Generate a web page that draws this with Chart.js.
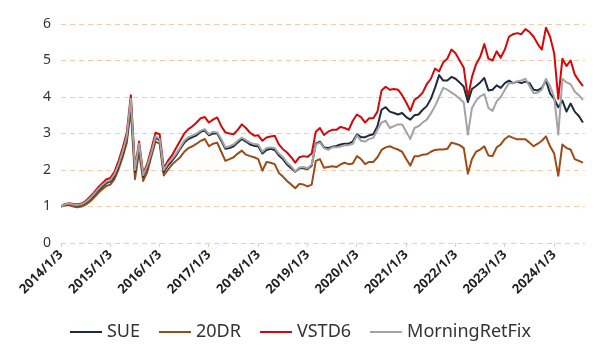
<!DOCTYPE html>
<html>
<head>
<meta charset="utf-8">
<script src="https://cdn.jsdelivr.net/npm/chart.js@4.4.1/dist/chart.umd.min.js"></script>
<style>
  html, body { margin: 0; padding: 0; background: #fff; }
</style>
</head>
<body>
<canvas id="nav" width="594" height="345"></canvas>
<script>
// month-end net values, 2014/1 .. 2024/8 (one value per month)
const yearTicks = ["2014/1/3", "2015/1/3", "2016/1/3", "2017/1/3", "2018/1/3", "2019/1/3",
  "2020/1/3", "2021/1/3", "2022/1/3", "2023/1/3", "2024/1/3"];

const sue = [
  1.00, 1.05, 1.07, 1.04, 1.03, 1.05, 1.10, 1.20, 1.31, 1.43, 1.54, 1.64,
  1.68, 1.83, 2.10, 2.44, 2.86, 3.85, 1.95, 2.65, 1.82, 2.08, 2.45, 2.88,
  2.82, 1.95, 2.12, 2.25, 2.40, 2.58, 2.75, 2.85, 2.90, 2.95, 3.05, 3.08,
  2.95, 3.00, 3.00, 2.80, 2.58, 2.60, 2.65, 2.75, 2.85, 2.78, 2.70, 2.66,
  2.65, 2.45, 2.55, 2.58, 2.55, 2.40, 2.30, 2.15, 2.05, 1.95, 2.05, 2.05,
  2.03, 2.12, 2.72, 2.78, 2.62, 2.60, 2.64, 2.66, 2.70, 2.72, 2.72, 2.78,
  2.98, 2.90, 2.90, 2.95, 2.98, 3.20, 3.65, 3.72, 3.60, 3.56, 3.52, 3.56,
  3.45, 3.38, 3.50, 3.52, 3.65, 3.75, 3.95, 4.25, 4.60, 4.45, 4.45, 4.55,
  4.50, 4.40, 4.28, 3.86, 4.22, 4.30, 4.40, 4.52, 4.18, 4.20, 4.32, 4.25,
  4.38, 4.45, 4.38, 4.42, 4.38, 4.42, 4.38, 4.20, 4.18, 4.25, 4.45, 4.10,
  3.95, 3.72, 3.90, 3.60, 3.82, 3.60, 3.48, 3.30
];

const dr20 = [
  1.00, 1.03, 1.04, 1.00, 0.98, 1.00, 1.05, 1.13, 1.24, 1.36, 1.47, 1.56,
  1.60, 1.75, 2.02, 2.35, 2.75, 3.65, 1.75, 2.50, 1.70, 1.95, 2.38, 2.78,
  2.72, 1.85, 2.00, 2.15, 2.25, 2.35, 2.50, 2.60, 2.65, 2.72, 2.80, 2.85,
  2.65, 2.72, 2.75, 2.50, 2.25, 2.30, 2.35, 2.45, 2.53, 2.42, 2.38, 2.35,
  2.30, 1.98, 2.22, 2.20, 2.16, 1.92, 1.82, 1.70, 1.60, 1.50, 1.62, 1.60,
  1.55, 1.60, 2.25, 2.30, 2.06, 2.08, 2.10, 2.08, 2.15, 2.20, 2.16, 2.18,
  2.38, 2.30, 2.16, 2.22, 2.22, 2.35, 2.55, 2.62, 2.65, 2.60, 2.56, 2.50,
  2.30, 2.12, 2.38, 2.38, 2.42, 2.43, 2.50, 2.55, 2.56, 2.56, 2.58, 2.75,
  2.72, 2.68, 2.60, 1.90, 2.30, 2.50, 2.56, 2.65, 2.40, 2.38, 2.62, 2.70,
  2.85, 2.93, 2.88, 2.84, 2.84, 2.84, 2.75, 2.65, 2.72, 2.80, 2.92, 2.65,
  2.45, 1.84, 2.70, 2.60, 2.56, 2.30, 2.25, 2.20
];

const vstd6 = [
  1.00, 1.07, 1.09, 1.07, 1.06, 1.08, 1.15, 1.26, 1.38, 1.52, 1.63, 1.74,
  1.78, 1.95, 2.25, 2.60, 3.02, 4.05, 2.05, 2.78, 1.90, 2.18, 2.58, 3.02,
  2.98, 2.05, 2.25, 2.40, 2.60, 2.80, 3.00, 3.12, 3.20, 3.30, 3.42, 3.45,
  3.30, 3.38, 3.44, 3.20, 3.03, 3.00, 2.98, 3.10, 3.25, 3.15, 3.02, 2.94,
  2.95, 2.80, 2.89, 2.92, 2.94, 2.70, 2.57, 2.48, 2.35, 2.20, 2.35, 2.38,
  2.36, 2.45, 3.05, 3.15, 2.96, 3.05, 3.10, 3.10, 3.18, 3.15, 3.10, 3.35,
  3.52, 3.45, 3.30, 3.42, 3.42, 3.60, 4.18, 4.28, 4.20, 4.22, 4.20, 4.05,
  3.85, 3.62, 3.92, 4.00, 4.12, 4.35, 4.50, 4.78, 4.70, 4.95, 5.05, 5.30,
  5.20, 5.00, 4.80, 3.98, 4.55, 4.90, 5.10, 5.45, 5.05, 5.00, 5.25, 5.08,
  5.30, 5.65, 5.72, 5.75, 5.72, 5.86, 5.78, 5.65, 5.45, 5.30, 5.90, 5.65,
  5.20, 3.95, 5.05, 4.85, 5.00, 4.62, 4.45, 4.30
];

const morningRetFix = [
  1.00, 1.06, 1.08, 1.05, 1.04, 1.06, 1.12, 1.22, 1.34, 1.47, 1.58, 1.68,
  1.72, 1.88, 2.15, 2.50, 2.92, 3.95, 2.00, 2.72, 1.86, 2.12, 2.48, 2.92,
  2.85, 2.00, 2.18, 2.30, 2.45, 2.62, 2.80, 2.90, 2.95, 3.00, 3.08, 3.12,
  2.98, 3.05, 3.03, 2.85, 2.62, 2.65, 2.70, 2.80, 2.89, 2.82, 2.75, 2.71,
  2.70, 2.50, 2.60, 2.62, 2.60, 2.45, 2.35, 2.20, 2.10, 1.96, 2.07, 2.08,
  2.05, 2.15, 2.70, 2.75, 2.60, 2.55, 2.62, 2.62, 2.64, 2.68, 2.68, 2.72,
  2.95, 2.80, 2.78, 2.85, 2.88, 3.10, 3.30, 3.35, 3.15, 3.20, 3.25, 3.25,
  3.05, 2.85, 3.15, 3.20, 3.30, 3.38, 3.55, 3.75, 4.00, 4.25, 4.20, 4.12,
  4.05, 3.95, 3.85, 2.97, 3.70, 3.90, 4.02, 4.08, 3.70, 3.62, 3.88, 4.00,
  4.20, 4.38, 4.38, 4.43, 4.45, 4.50, 4.30, 4.10, 4.12, 4.20, 4.50, 4.30,
  4.00, 2.97, 4.50, 4.40, 4.35, 4.15, 4.05, 3.92
];

const gridColor = "#f8caa8";

// short flat bar used as the legend marker
function legendLine(color) {
  const c = document.createElement("canvas");
  c.width = 32;
  c.height = 2;
  const g = c.getContext("2d");
  g.fillStyle = color;
  g.fillRect(0, 0, 32, 2);
  return c;
}

function series(label, values, color, order) {
  return {
    label: label,
    data: values.map(function (v, i) { return { x: i, y: v }; }),
    borderColor: color,
    backgroundColor: color,
    pointStyle: legendLine(color),
    order: order
  };
}

Chart.defaults.font.family = "'Noto Sans', sans-serif";

new Chart(document.getElementById("nav"), {
  type: "line",
  data: {
    datasets: [
      series("SUE", sue, "#1d2b3f", 1),
      series("20DR", dr20, "#9e4a14", 3),
      series("VSTD6", vstd6, "#d40808", 2),
      series("MorningRetFix", morningRetFix, "#a3a3a3", 0)
    ]
  },
  options: {
    animation: false,
    responsive: false,
    layout: { padding: { left: 20, right: 9, top: 24, bottom: -6 } },
    elements: {
      point: { radius: 0 },
      line: { borderWidth: 2, tension: 0, borderJoinStyle: "round" }
    },
    scales: {
      x: {
        type: "linear",
        min: 0,
        max: 127.5,
        grid: { drawOnChartArea: false, drawTicks: true, tickLength: 4, color: gridColor },
        border: { display: false },
        ticks: {
          stepSize: 12,
          autoSkip: false,
          includeBounds: false,
          minRotation: 45,
          maxRotation: 45,
          padding: 0,
          color: "#222",
          font: { size: 13, weight: "bold" },
          callback: function (v) { return yearTicks[v / 12] || ""; }
        },
        afterFit: function (s) { s.height = 57; }
      },
      y: {
        min: 0,
        max: 6,
        grid: { color: gridColor, drawTicks: false },
        border: { display: false, dash: [5, 4] },
        ticks: { stepSize: 1, padding: 10, color: "#333", font: { size: 14 } },
        afterFit: function (s) { s.width = 41; }
      }
    },
    plugins: {
      tooltip: { enabled: false },
      legend: {
        position: "bottom",
        labels: {
          usePointStyle: true,
          pointStyleWidth: 24,
          padding: 23,
          color: "#333",
          font: { size: 18 },
          sort: function (a, b) { return a.datasetIndex - b.datasetIndex; }
        }
      }
    }
  }
});
</script>
</body>
</html>
